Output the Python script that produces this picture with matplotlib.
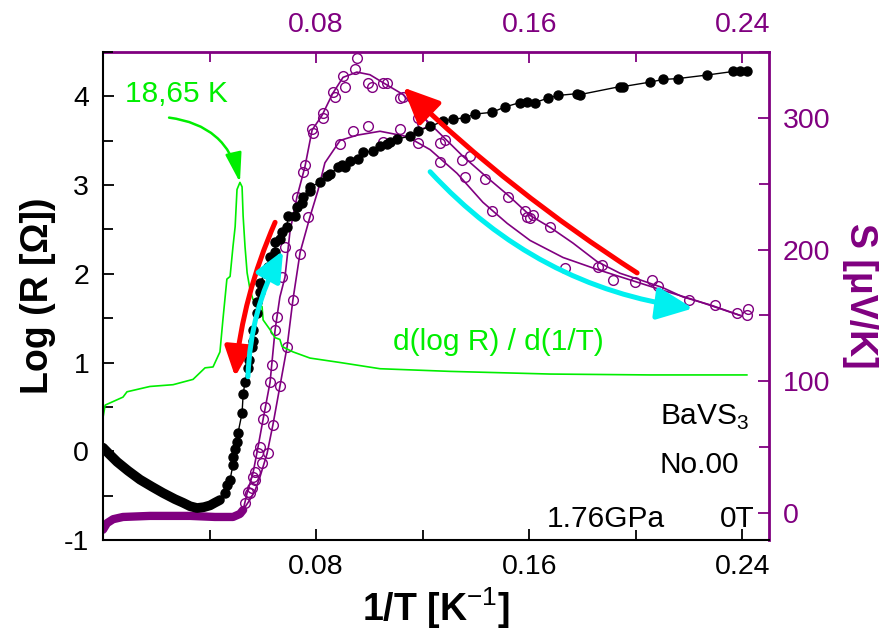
import matplotlib
matplotlib.use('Agg')
import matplotlib.pyplot as plt
from matplotlib.ticker import MultipleLocator

plt.rcParams['font.family'] = ['Liberation Sans', 'DejaVu Sans']
plt.rcParams['mathtext.fontset'] = 'custom'
plt.rcParams['mathtext.rm'] = 'Liberation Sans'
plt.rcParams['mathtext.bf'] = 'Liberation Sans:bold'
plt.rcParams['axes.unicode_minus'] = False

purple = '#800080'
green = '#00ee00'
cyan = '#00f0f0'

# log R, dense part at high T (small 1/T)
black_dense_x = [0, 0.0026, 0.0053, 0.0094, 0.0139, 0.0184, 0.0225, 0.0270, 0.0300,
                 0.0327, 0.0353, 0.0379, 0.0402, 0.0420, 0.0439]
black_dense_logr = [0.04, -0.04, -0.12, -0.22, -0.32, -0.40, -0.47, -0.54, -0.58,
                    -0.62, -0.64, -0.63, -0.61, -0.58, -0.55]

# log R, measured points below the transition
black_x = [0.0458, 0.0465, 0.0477, 0.0488, 0.0488, 0.0496, 0.0503, 0.0507, 0.0522, 0.0526,
           0.0533, 0.0544, 0.0548, 0.0559, 0.0563, 0.0563, 0.0578, 0.0578, 0.0589, 0.0590,
           0.0608, 0.0619, 0.0627, 0.0646, 0.0646, 0.0664, 0.0672, 0.0691, 0.0694, 0.0721,
           0.0728, 0.0747, 0.0751, 0.0777, 0.0777, 0.0815, 0.0841, 0.0852, 0.0882, 0.0897,
           0.0908, 0.0927, 0.0957, 0.0976, 0.1014, 0.1040, 0.1066, 0.1077, 0.1104, 0.1152,
           0.1182, 0.1228, 0.1276, 0.1314, 0.1359, 0.1396, 0.1460, 0.1509, 0.1565, 0.1592,
           0.1622, 0.1670, 0.1708, 0.1779, 0.1791, 0.1941, 0.1952, 0.2053, 0.2102, 0.2158,
           0.2267, 0.2365, 0.2391, 0.2417]
black_logr = [-0.47, -0.38, -0.32, -0.15, -0.06, 0.02, 0.10, 0.21, 0.43, 0.64,
              0.78, 0.94, 1.03, 1.17, 1.24, 1.37, 1.56, 1.68, 1.79, 1.90,
              2.01, 2.08, 2.19, 2.24, 2.36, 2.39, 2.47, 2.53, 2.65, 2.65,
              2.75, 2.80, 2.87, 2.93, 2.98, 3.03, 3.10, 3.12, 3.20, 3.23,
              3.20, 3.27, 3.29, 3.37, 3.38, 3.44, 3.46, 3.48, 3.52, 3.55,
              3.61, 3.66, 3.72, 3.74, 3.76, 3.80, 3.82, 3.88, 3.93, 3.94,
              3.93, 3.98, 4.01, 4.03, 4.02, 4.11, 4.11, 4.16, 4.19, 4.20,
              4.24, 4.28, 4.28, 4.28]

# d(log R)/d(1/T), drawn in left-axis units
dlog_x = [0, 0.0008, 0.0075, 0.0090, 0.0176, 0.0263, 0.0338, 0.0383, 0.0413, 0.0439,
          0.0450, 0.0465, 0.0477, 0.0488, 0.0496, 0.0503, 0.0514, 0.0522, 0.0526, 0.0533,
          0.0541, 0.0552, 0.0563, 0.0578, 0.0597, 0.0601, 0.0627, 0.0646, 0.0664, 0.0672,
          0.0713, 0.0777, 0.0890, 0.1040, 0.1303, 0.1678, 0.2053, 0.2417]
dlog_y = [0.38, 0.52, 0.61, 0.67, 0.73, 0.75, 0.81, 0.94, 0.95, 1.12,
          1.48, 1.94, 1.97, 2.31, 2.53, 2.95, 3.03, 2.98, 2.65, 2.31,
          2.01, 1.82, 1.71, 1.68, 1.63, 1.48, 1.37, 1.28, 1.26, 1.18,
          1.12, 1.05, 1.00, 0.93, 0.90, 0.87, 0.86, 0.86]

# thermopower S, flat dense part
s_flat_x = [0, 0.0015, 0.0038, 0.0075, 0.0176, 0.0327, 0.0420, 0.0488, 0.0514, 0.0526]
s_flat = [-13, -8, -5, -3.3, -2.5, -2.5, -3.3, -3.3, -1, 2]

# S, first run (higher peak): smooth line + points
sa_x = [0.0526, 0.0541, 0.0563, 0.0582, 0.0601, 0.0627, 0.0646, 0.0664, 0.0683, 0.0702,
        0.0728, 0.0758, 0.0785, 0.0822, 0.0863, 0.0901, 0.0953, 0.1002, 0.1051, 0.1126,
        0.1201, 0.1276, 0.1351, 0.1441, 0.1517, 0.1603, 0.1678, 0.1764, 0.1854, 0.1941,
        0.2016, 0.2102, 0.2177, 0.2279, 0.2391]
sa = [2, 15, 30, 50, 71, 99, 139, 164, 179, 214,
      240, 263, 291, 302, 319, 331, 335, 333, 327, 318,
      301, 286, 271, 255, 242, 226, 217, 205, 191, 182,
      177, 171, 164, 158, 150]
ma_x = [0.0544, 0.0563, 0.0571, 0.0582, 0.0589, 0.0601, 0.0608, 0.0627, 0.0634, 0.0646,
        0.0653, 0.0672, 0.0683, 0.0728, 0.0751, 0.0758, 0.0785, 0.0788, 0.0826, 0.0826,
        0.0863, 0.0871, 0.0901, 0.0908, 0.0946, 0.0953, 0.0995, 0.1010, 0.1051, 0.1066,
        0.1115, 0.1126, 0.1182, 0.1197, 0.1265, 0.1284, 0.1348, 0.1378, 0.1434, 0.1520,
        0.1584, 0.1603, 0.1614, 0.1592, 0.1678, 0.1858, 0.1873, 0.1997, 0.2061, 0.2083,
        0.2200, 0.2297, 0.2380, 0.2417, 0.2421]
ma = [16, 27, 31, 45, 50, 71, 80, 99, 112, 139,
      149, 179, 202, 240, 259, 264, 292, 289, 304, 300,
      320, 316, 332, 324, 337, 346, 327, 324, 327, 327,
      315, 316, 300, 296, 281, 283, 268, 271, 254, 240,
      229, 224, 226, 225, 217, 187, 188, 175, 177, 172,
      162, 158, 152, 150, 155]

# S, second run (lower peak)
sb_x = [0.0526, 0.0552, 0.0571, 0.0589, 0.0616, 0.0638, 0.0664, 0.0691, 0.0713, 0.0740,
        0.0777, 0.0807, 0.0833, 0.0890, 0.0953, 0.1040, 0.1141, 0.1228, 0.1329, 0.1426,
        0.1517, 0.1603, 0.1727, 0.1854, 0.1978, 0.2102, 0.2215, 0.2391]
sb = [2, 10, 17, 27, 45, 67, 96, 126, 162, 198,
      225, 245, 266, 283, 287, 290, 286, 276, 258, 236,
      220, 207, 194, 185, 177, 169, 162, 150]
mb_x = [0.0533, 0.0552, 0.0559, 0.0571, 0.0597, 0.0619, 0.0638, 0.0664, 0.0691, 0.0713,
        0.0740, 0.0770, 0.0890, 0.0938, 0.0995, 0.1051, 0.1115, 0.1182, 0.1265, 0.1359,
        0.1460, 0.1734, 0.1915]
mb = [7, 15, 19, 25, 38, 45, 67, 96, 126, 162,
      197, 225, 280, 290, 294, 282, 292, 281, 267, 255,
      229, 186, 177]

fig = plt.figure(figsize=(8.85, 6.4), dpi=100)
ax = fig.add_axes([0.1164, 0.1563, 0.7525, 0.7625])
ax2 = ax.twinx()
ax.set_zorder(ax2.get_zorder() + 1)
ax.patch.set_visible(False)

# thermopower (right axis)
ax2.plot(s_flat_x, s_flat, color=purple, lw=6, solid_capstyle='round')
ax2.plot(sa_x, sa, color=purple, lw=1.2)
ax2.plot(sb_x, sb, color=purple, lw=1.2)
ax2.plot(ma_x, ma, 'o', color=purple, mfc='none', mew=1.0, ms=7)
ax2.plot(mb_x, mb, 'o', color=purple, mfc='none', mew=1.0, ms=7)
ax2.set_ylim(-20.8, 350.3)

# resistance and derivative (left axis)
ax.plot(dlog_x, dlog_y, color=green, lw=1.2)
ax.plot(black_dense_x, black_dense_logr, color='black', lw=7, solid_capstyle='round')
ax.plot(black_dense_x[-1:] + black_x, black_dense_logr[-1:] + black_logr,
        color='black', lw=1.0)
ax.plot(black_x, black_logr, 'o', color='black', ms=6.5)
ax.set_xlim(0, 0.25)
ax.set_ylim(-1, 4.5)

# arrows
def arrow(tail, tip, color, lw, rad, hl=1.0, hw=0.45, ms=22):
    ax.annotate('', xy=tip, xytext=tail,
                arrowprops=dict(arrowstyle='-|>,head_length=%s,head_width=%s' % (hl, hw),
                                color=color, lw=lw, mutation_scale=ms,
                                shrinkA=0, shrinkB=0,
                                connectionstyle='arc3,rad=%s' % rad))

arrow((0.2005, 2.01), (0.1126, 4.10), 'red', 3.6, -0.05)
arrow((0.1228, 3.15), (0.2215, 1.61), cyan, 3.6, 0.18)
arrow((0.0646, 2.58), (0.0496, 0.84), 'red', 3.6, 0.08, ms=18)
arrow((0.0544, 0.84), (0.0676, 2.26), cyan, 3.6, -0.12, ms=18)
arrow((0.0248, 3.76), (0.0514, 3.03), green, 1.8, -0.35, hl=0.9, hw=0.25, ms=20)

# text
ax.text(0.033, 0.898, '18,65 K', color=green, fontsize=21.5, transform=ax.transAxes)
ax.text(0.435, 0.389, 'd(log R) / d(1/T)', color=green, fontsize=21.5, transform=ax.transAxes)
ax.text(0.836, 0.236, 'BaVS$_3$', fontsize=21.5, transform=ax.transAxes)
ax.text(0.836, 0.137, 'No.00', fontsize=21.5, transform=ax.transAxes)
ax.text(0.667, 0.027, '1.76GPa', fontsize=21.5, transform=ax.transAxes)
ax.text(0.926, 0.027, '0T', fontsize=21.5, transform=ax.transAxes)

# axes styling
ax.set_xticks([0.08, 0.16, 0.24])
ax.xaxis.set_minor_locator(MultipleLocator(0.04))
ax.yaxis.set_major_locator(MultipleLocator(1))
ax.yaxis.set_minor_locator(MultipleLocator(0.5))
ax.tick_params(which='both', direction='in', width=1.3, labelsize=20.5, pad=10,
               top=False, right=False)
ax.tick_params(which='major', length=8)
ax.tick_params(which='minor', length=7)
ax.spines['top'].set_visible(False)
ax.spines['right'].set_visible(False)
for s in ['left', 'bottom']:
    ax.spines[s].set_linewidth(1.5)

ax2.yaxis.set_major_locator(MultipleLocator(100))
ax2.yaxis.set_minor_locator(MultipleLocator(50))
ax2.tick_params(which='both', direction='in', width=1.3, labelsize=20.5, pad=10,
                colors=purple)
ax2.tick_params(which='major', length=8)
ax2.tick_params(which='minor', length=7)
for s in ['left', 'bottom', 'top']:
    ax2.spines[s].set_visible(False)
ax2.spines['right'].set_color(purple)
ax2.spines['right'].set_linewidth(2)

top = ax.secondary_xaxis('top')
top.set_xticks([0.08, 0.16, 0.24])
top.xaxis.set_minor_locator(MultipleLocator(0.04))
top.tick_params(which='both', direction='in', width=1.3, labelsize=20.5, pad=10,
                colors=purple)
top.tick_params(which='major', length=8)
top.tick_params(which='minor', length=7)
top.spines['top'].set_color(purple)
top.spines['top'].set_linewidth(2)

ax.set_xlabel('1/T [K$^{-1}$]', fontsize=27, fontweight='bold', labelpad=4)
ax.set_ylabel('Log (R [\u03a9])', fontsize=27, fontweight='bold', labelpad=6)
ax2.set_ylabel('S [\u03bcV/K]', fontsize=27, fontweight='bold', color=purple,
               rotation=270, va='bottom', labelpad=8)

fig.savefig('out.png', dpi=100)
